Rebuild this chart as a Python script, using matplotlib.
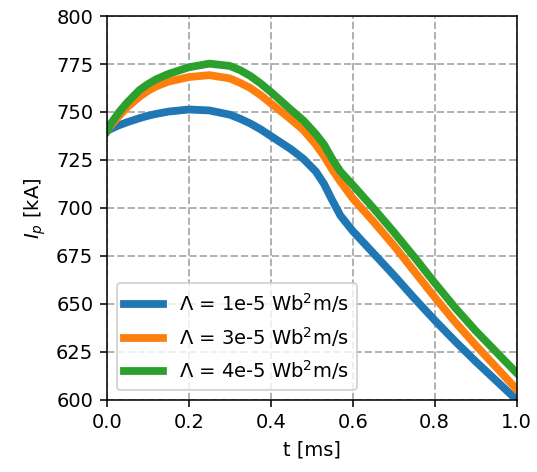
import matplotlib
matplotlib.use("Agg")
import matplotlib.pyplot as plt

# time in ms
t = [0, 0.01, 0.02, 0.03, 0.05, 0.08, 0.1, 0.12, 0.15, 0.2, 0.25, 0.3, 0.325,
     0.35, 0.375, 0.4, 0.425, 0.45, 0.48, 0.51, 0.53, 0.55, 0.57, 0.6, 0.65,
     0.7, 0.75, 0.8, 0.85, 0.9, 0.95, 1.0]
ip_1e5 = [740, 741.2, 742.2, 743.1, 744.7, 746.8, 748, 749, 750.2, 751.3, 750.8,
          748.6, 746.5, 744, 741, 737.5, 734, 730.5, 725.5, 719, 712.5, 704,
          696, 688, 676.5, 665, 653, 641.5, 630.5, 620, 610, 600]
ip_3e5 = [740, 743, 745.5, 748, 752.5, 758, 761, 763.3, 765.8, 768.2, 769.2,
          767.5, 765.2, 762.5, 758.8, 754.5, 750.3, 746, 740.5, 733, 727, 720,
          713.7, 705, 693, 680.5, 667, 653.5, 640.5, 628.5, 617, 605.5]
ip_4e5 = [740, 744, 747, 750, 755, 761.5, 764.5, 767, 769.8, 773.3, 775.2, 774,
          771.8, 768.8, 764.9, 760.5, 755.8, 751, 745.5, 738.5, 733, 725.5, 719,
          712, 700, 687.5, 674.5, 661, 648, 636, 625, 614]

labels = [r"$\Lambda$ = 1e-5 Wb$^2$m/s",
          r"$\Lambda$ = 3e-5 Wb$^2$m/s",
          r"$\Lambda$ = 4e-5 Wb$^2$m/s"]

dpi = 140
fig = plt.figure(figsize=(537 / dpi, 472 / dpi), dpi=dpi)
ax = fig.add_axes([0.199, 0.153, 0.763, 0.813])

for y, lab in zip([ip_1e5, ip_3e5, ip_4e5], labels):
    ax.plot(t, y, linewidth=4, label=lab)

ax.set_xlim(0, 1.0)
ax.set_ylim(600, 800)
ax.set_xticks([0.0, 0.2, 0.4, 0.6, 0.8, 1.0])
ax.set_yticks(range(600, 801, 25))
ax.grid(True, linestyle='--', linewidth=1)
ax.set_xlabel("t [ms]")
ax.set_ylabel(r"$I_p$ [kA]")
ax.legend(loc='lower left')

fig.savefig("out.png", dpi=dpi)
